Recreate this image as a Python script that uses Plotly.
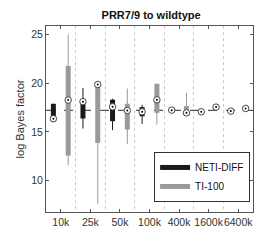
import plotly.graph_objects as go

categories = ["10k", "25k", "50k", "100k", "400k", "1600k", "6400k"]
reference_value = 17.2

# NETI-DIFF box statistics
neti_wlo = [16.0, 15.34, 15.17, 15.82, 17.10, 16.95, 17.05]
neti_q1 = [16.2, 16.37, 16.10, 16.60, 17.15, 17.00, 17.08]
neti_med = [16.35, 18.10, 17.57, 17.06, 17.23, 17.06, 17.13]
neti_q3 = [17.88, 18.12, 18.30, 17.54, 17.30, 17.12, 17.20]
neti_whi = [17.88, 19.50, 18.40, 17.78, 17.35, 17.15, 17.22]

# TI-100 box statistics
ti_wlo = [11.58, 7.63, 13.77, 15.75, 16.80, 17.45, 17.30]
ti_q1 = [12.57, 13.87, 15.24, 16.95, 16.90, 17.50, 17.35]
ti_med = [18.26, 19.86, 17.19, 18.29, 16.95, 17.54, 17.40]
ti_q3 = [21.75, 19.90, 17.88, 19.93, 17.64, 17.65, 17.45]
ti_whi = [25.00, 19.90, 19.45, 19.93, 19.00, 17.80, 17.50]

offset = 0.25
neti_color = "#1a1a1a"
ti_color = "#9a9a9a"
FONT = "Liberation Sans, Arial, sans-serif"

fig = go.Figure()


def segs(xs, lo, hi):
    X, Y = [], []
    for x, a, b in zip(xs, lo, hi):
        X += [x, x, None]
        Y += [a, b, None]
    return X, Y


pos = list(range(1, len(categories) + 1))
xn = [p - offset for p in pos]
xt = [p + offset for p in pos]

# reference dashed line
fig.add_trace(go.Scatter(x=[0.5, 7.5], y=[reference_value, reference_value], mode="lines",
                         line=dict(color="#555555", width=1.2, dash="dash"),
                         showlegend=False, hoverinfo="skip"))

for xs, wlo, q1, q3, whi, col, name in [
    (xn, neti_wlo, neti_q1, neti_q3, neti_whi, neti_color, "NETI-DIFF"),
    (xt, ti_wlo, ti_q1, ti_q3, ti_whi, ti_color, "TI-100"),
]:
    X, Y = segs(xs, wlo, whi)
    fig.add_trace(go.Scatter(x=X, y=Y, mode="lines", line=dict(color=col, width=1),
                             showlegend=False, hoverinfo="skip"))
    X, Y = segs(xs, q1, q3)
    fig.add_trace(go.Scatter(x=X, y=Y, mode="lines", line=dict(color=col, width=5),
                             name=name, showlegend=True))

for xs, med in [(xn, neti_med), (xt, ti_med)]:
    fig.add_trace(go.Scatter(x=xs, y=med, mode="markers",
                             marker=dict(symbol="circle", size=6.5, color="white",
                                         line=dict(color="#444444", width=1)),
                             showlegend=False, hoverinfo="skip"))
    fig.add_trace(go.Scatter(x=xs, y=med, mode="markers",
                             marker=dict(symbol="circle", size=2, color="black"),
                             showlegend=False, hoverinfo="skip"))

axis_common = dict(showline=True, linecolor="#555555", linewidth=1, mirror="ticks",
                   ticks="inside", ticklen=3, tickcolor="#555555",
                   tickfont=dict(family=FONT, size=10.5, color="#333333"),
                   zeroline=False)

fig.update_layout(
    width=270, height=243,
    margin=dict(l=35, r=25, t=18, b=39),
    plot_bgcolor="white", paper_bgcolor="white",
    title=dict(text="<b>PRR7/9 to wildtype</b>", x=0.53, xanchor="center", y=0.985, yanchor="top",
               font=dict(family=FONT, size=11, color="#111111")),
    xaxis=dict(range=[0.5, 7.5], tickvals=pos, ticktext=categories, showgrid=False, tickangle=0,
               minor=dict(tickvals=[1.5, 2.5, 3.5, 4.5, 5.5, 6.5], showgrid=True,
                          gridcolor="#cccccc", griddash="dot", gridwidth=1, ticks=""),
               **axis_common),
    yaxis=dict(range=[6.78, 25.86], tickvals=[10, 15, 20, 25], showgrid=False,
               title=dict(text="log Bayes factor", standoff=4,
                          font=dict(family=FONT, size=11, color="#333333")),
               **axis_common),
    legend=dict(x=0.986, y=0.054, xanchor="right", yanchor="bottom",
                bgcolor="white", bordercolor="#333333", borderwidth=1,
                font=dict(family=FONT, size=10, color="#111111"),
                tracegroupgap=0, itemwidth=30),
)

fig.write_html("out.html")
